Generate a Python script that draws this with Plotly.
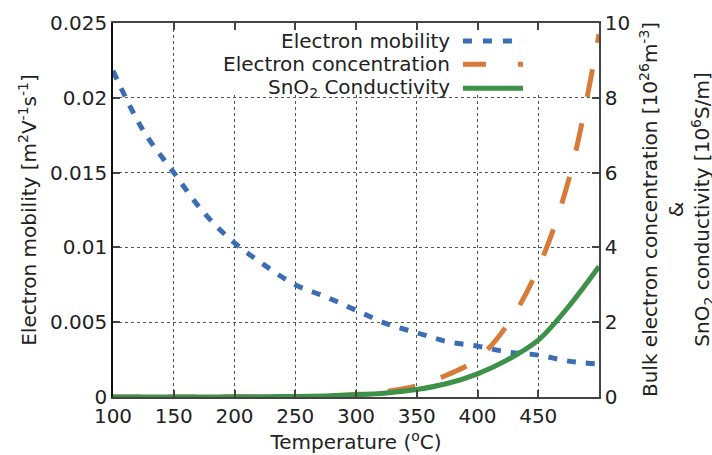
import plotly.graph_objects as go

# ---------------- data ----------------
temperature = [100, 125, 150, 175, 200, 225, 250, 275, 300, 325, 350, 375, 400, 425, 450, 475, 500]
mobility = [0.0218, 0.0178, 0.0150, 0.0123, 0.0103, 0.0088, 0.0075, 0.0067, 0.0058, 0.0049, 0.0043,
            0.0037, 0.0034, 0.0030, 0.0028, 0.0024, 0.0022]
concentration = [0.0, 0.0, 0.0, 0.0005, 0.001, 0.003, 0.008, 0.025, 0.07, 0.15, 0.30, 0.59, 1.02,
                 1.95, 3.45, 5.8, 9.7]
conductivity = [0.0, 0.0, 0.001, 0.002, 0.004, 0.008, 0.015, 0.03, 0.06, 0.11, 0.20, 0.36, 0.62,
                1.0, 1.52, 2.42, 3.49]

x_ticks = [100, 150, 200, 250, 300, 350, 400, 450]
y_ticks = [0, 0.005, 0.01, 0.015, 0.02, 0.025]
y_ticktext = ["0", "0.005", "0.01", "0.015", "0.02", "0.025"]
y2_ticks = [0, 2, 4, 6, 8, 10]

series_names = ["Electron mobility", "Electron concentration", "SnO<sub>2</sub> Conductivity"]
colors = ["#3a6db4", "#d67b38", "#3d9148"]

FONT = "DejaVu Sans"
FS = 20
TXT = "#222222"
AX = "#444444"

fig = go.Figure()
fig.add_trace(go.Scatter(x=temperature, y=mobility, mode="lines", name=series_names[0],
                         line=dict(color=colors[0], width=5, dash="9px,10px", shape="spline"),
                         yaxis="y", showlegend=False))
fig.add_trace(go.Scatter(x=temperature, y=concentration, mode="lines", name=series_names[1],
                         line=dict(color=colors[1], width=5, dash="28px,27px", shape="spline"),
                         yaxis="y2", showlegend=False))
fig.add_trace(go.Scatter(x=temperature, y=conductivity, mode="lines", name=series_names[2],
                         line=dict(color=colors[2], width=5, shape="spline"),
                         yaxis="y2", showlegend=False))

# legend (text right-aligned, sample line to the right), with opaque box hiding grid
shapes = [dict(type="rect", xref="x", yref="y", x0=160, x1=500, y0=0.0202, y1=0.025,
               fillcolor="white", line=dict(width=0), layer="between")]
annotations = []
leg_y = [0.952, 0.8896, 0.8254]
leg_dash = ["9px,11px", "23px,32px", "solid"]
for name, col, yy, dsh in zip(series_names, colors, leg_y, leg_dash):
    annotations.append(dict(xref="paper", yref="paper", x=0.6975, y=yy, text=name,
                            showarrow=False, xanchor="right", yanchor="middle",
                            font=dict(family=FONT, size=FS, color=TXT)))
    shapes.append(dict(type="line", xref="paper", yref="paper", x0=0.720, x1=0.8436, y0=yy, y1=yy,
                       line=dict(color=col, width=5, dash=dsh)))

# right-axis title (three lines)
annotations.append(dict(xref="paper", yref="paper", x=1.1585, y=0.5, xanchor="center", yanchor="middle",
                        textangle=-90, showarrow=False,
                        text="Bulk electron concentration [10<sup>26</sup>m<sup>-3</sup>]<br>&amp;<br>"
                             "SnO<sub>2</sub> conductivity [10<sup>6</sup>S/m]",
                        font=dict(family=FONT, size=FS, color=TXT)))

fig.update_layout(
    width=712, height=455,
    margin=dict(l=113, r=113, t=23, b=58),
    paper_bgcolor="white", plot_bgcolor="white",
    font=dict(family=FONT, size=FS, color=TXT),
    shapes=shapes, annotations=annotations,
    xaxis=dict(range=[100, 500], tickvals=x_ticks, ticks="inside", ticklen=7, tickcolor=AX,
               tickwidth=1.5, showline=True, linecolor=AX, linewidth=1.5, mirror="ticks",
               showgrid=True, gridcolor="#555555", griddash="dot", gridwidth=1, zeroline=False,
               automargin=False,
               title=dict(text="Temperature (<sup>o</sup>C)", standoff=8,
                          font=dict(family=FONT, size=FS, color=TXT)),
               tickfont=dict(family=FONT, size=FS, color=TXT)),
    yaxis=dict(range=[0, 0.025], tickvals=y_ticks, ticktext=y_ticktext, ticks="inside", ticklen=7,
               tickcolor=AX, tickwidth=1.5, showline=True, linecolor="#111111", linewidth=1.5,
               showgrid=True, gridcolor="#555555", griddash="dot", gridwidth=1, zeroline=False,
               automargin=False,
               title=dict(text="Electron mobility [m<sup>2</sup>V<sup>-1</sup>s<sup>-1</sup>]", standoff=8,
                          font=dict(family=FONT, size=FS, color=TXT)),
               tickfont=dict(family=FONT, size=FS, color=TXT)),
    yaxis2=dict(range=[0, 10], tickvals=y2_ticks, overlaying="y", side="right", ticks="inside",
                ticklen=7, tickcolor=AX, tickwidth=1.5, showline=True, linecolor=AX, linewidth=1.5,
                showgrid=False, zeroline=False, automargin=False,
                tickfont=dict(family=FONT, size=FS, color=TXT)),
)

# remove the browser's default 8px body margin so the figure fills the window exactly
fig.write_html("out.html", config={"displayModeBar": False},
               post_script="document.body.style.margin='0';")
